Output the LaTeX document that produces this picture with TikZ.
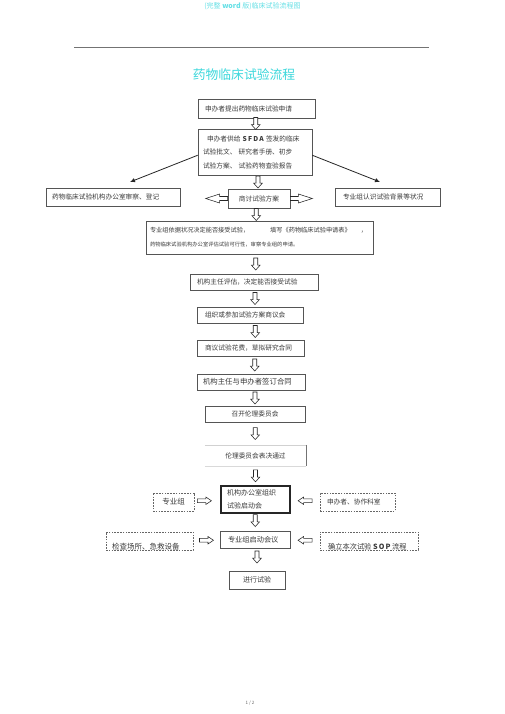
\documentclass[tikz,border=0pt]{standalone}
\usepackage{fontspec}
\setmainfont{Noto Sans CJK SC}
\usetikzlibrary{arrows.meta,calc}
\definecolor{ttl}{HTML}{3CD8DC}
\definecolor{hdr}{HTML}{66E0E6}
\definecolor{txt}{HTML}{3A3A3A}
\definecolor{edge}{HTML}{555555}
\newcommand{\myfs}[2]{\fontsize{#1}{#2}\selectfont}
\tikzset{
  pics/darr/.style={code={\draw[line width=0.55pt, draw=black!85, fill=white]
     (-2,-6) -- (2,-6) -- (2,1.2) -- (4.3,1.2) -- (0,6) -- (-4.3,1.2) -- (-2,1.2) -- cycle;}},
  pics/rarr/.style={code={\draw[line width=0.55pt, draw=black!85, fill=white]
     (-7,-1.8) -- (1.5,-1.8) -- (1.5,-3.7) -- (7,0) -- (1.5,3.7) -- (1.5,1.8) -- (-7,1.8) -- cycle;}},
  pics/bigl/.style={code={\draw[line width=0.55pt, draw=black!85, fill=white]
     (0,0) -- (14,-4.5) -- (14,-2) -- (22,-2) -- (22,2) -- (14,2) -- (14,4.5) -- cycle;}},
  box/.style={draw=edge, line width=0.7pt, fill=white, inner sep=0pt, text=txt, font={\myfs{6.7}{8}}},
  dbox/.style={draw=black!60, dash pattern=on 1.6pt off 1.2pt, line width=0.6pt, inner sep=0pt, text=txt, font={\myfs{6.7}{8}}},
  plain/.style={inner sep=0pt, text=txt, font={\myfs{6.7}{8}}},
}
\begin{document}
\begin{tikzpicture}[x=1pt,y=-1pt]
\fill[white] (0,0) rectangle (505,714);
\useasboundingbox (0,0) rectangle (505,714);

% header, rule, title
\node[inner sep=0pt, text=hdr, font={\myfs{7}{8}}] (hd) at (252.5,6) {(完整 \textbf{word} 版)临床试验流程图};
\coordinate (rl) at (74,47);
\coordinate (rr) at (429,47);
\draw[black!55, line width=0.7pt] (rl) -- (rr);
\node[inner sep=0pt, text=ttl, font={\myfs{12.8}{14}}] (title) at (244,75) {药物临床试验流程};

% main boxes
\node[box, minimum width=117pt, minimum height=19pt, text width=103pt, align=left] (b1) at (256.5,108.5) {申办者提出药物临床试验申请};
\node[box, minimum width=114pt, minimum height=46pt, text width=104pt, align=left, font={\myfs{6.7}{13.5}}] (b2) at (255,152)
  {\hspace*{4pt}申办者供给 \textbf{S\,F\,D\,A} 签发的临床\\试验批文、 研究者手册、初步\\试验方案、 试验药物查验报告};
\node[box, minimum width=134pt, minimum height=18pt, text width=122pt, align=left] (bl) at (113,197) {药物临床试验机构办公室审察、登记};
\node[box, minimum width=62pt, minimum height=19pt] (bc) at (259,198.5) {商讨试验方案};
\node[box, minimum width=105pt, minimum height=18pt, text width=89pt, align=left] (br) at (387.5,197) {专业组认识试验背景等状况};
\node[box, minimum width=227pt, minimum height=33pt, text width=219pt, align=left, font={\myfs{6.2}{14}}] (b4) at (259.5,237.5)
  {专业组依据状况决定能否接受试验，\hspace{21pt}填写《药物临床试验申请表》\hspace{10pt}，\\
   {\myfs{5.3}{14}药物临床试验机构办公室评估试验可行性，审察专业组的申请。}};
\node[box, minimum width=128pt, minimum height=16pt, text width=114pt, align=left] (b5) at (254,282) {机构主任评估，决定能否接受试验};
\node[box, minimum width=106pt, minimum height=16pt, text width=90pt, align=left] (b6) at (250,315) {组织或参加试验方案商议会};
\node[box, minimum width=107pt, minimum height=16pt, text width=91pt, align=left] (b7) at (250.5,348) {商议试验花费，草拟研究合同};
\node[box, minimum width=108pt, minimum height=16pt, text width=96pt, align=left, font={\myfs{7.4}{8}}] (b8) at (251,382) {机构主任与申办者签订合同};
\node[box, minimum width=100pt, minimum height=16pt] (b9) at (255,414) {召开伦理委员会};
\node[plain, minimum width=101pt, minimum height=21pt] (b10) at (255.5,455.5) {伦理委员会表决通过};
\draw[black!18, line width=0.6pt] (b10.north west) -- (b10.north east);
\draw[black!55, line width=0.7pt] (b10.north east) -- (b10.south east);
\draw[black!15, line width=0.6pt] (b10.south west) -- (b10.south east);
\node[box, draw=black!85, line width=1.1pt, minimum width=69pt, minimum height=27pt, text width=57pt, align=left, font={\myfs{7}{13}}] (b11) at (255.5,499.5) {机构办公室组织\\试验启动会};
\node[dbox, minimum width=41pt, minimum height=18pt, font={\myfs{7.5}{8}}] (d1) at (173.5,502) {专业组};
\node[dbox, minimum width=75pt, minimum height=18pt, text width=61pt, align=left] (d2) at (357.5,502) {申办者、协作科室};
\node[box, minimum width=70pt, minimum height=17pt, text width=54pt, align=left, font={\myfs{7.2}{8}}] (b12) at (255,539.5) {专业组启动会议};
\node[dbox, minimum width=87pt, minimum height=18pt] (d3) at (149.5,541) {};
\node[plain, anchor=base west, font={\myfs{7.5}{8}}] (d3t) at (112,549.8) {检查场所、急救设备};
\node[dbox, minimum width=98pt, minimum height=18pt] (d4) at (369,541) {};
\node[plain, anchor=base west, font={\myfs{7.2}{8}}] (d4t) at (328,549.8) {确立本次试验 \textbf{S\,O\,P} 流程};
\node[box, minimum width=56pt, minimum height=18pt, font={\myfs{7}{8}}] (b13) at (257,580) {进行试验};

% page number
\node[inner sep=0pt, text=black!60, font={\myfs{4.5}{5}}] (pg) at (250,703) {1 / 2};

% diagonal arrows
\coordinate (la) at (130,182);
\coordinate (ra) at (380,182);
\draw[black!85, line width=0.8pt, -{Latex[length=5pt,width=4.5pt]}] ($(b2.north west)!0.57!(b2.south west)$) -- (la);
\draw[black!85, line width=0.8pt, -{Latex[length=5pt,width=4.5pt]}] ($(b2.north east)!0.57!(b2.south east)$) -- (ra);

% side arrows at bc
\pic at ([xshift=-22pt]bc.west) {bigl};
\pic[rotate=180] at ([xshift=22pt]bc.east) {bigl};

% down arrows
\pic at ($(b1.south)!.5!(b2.north)$) {darr};
\pic at ($(b2.south)!.5!(bc.north)+(1,0)$) {darr};
\pic at ($(bc.south)!.5!(b4.north)+(-3,0)$) {darr};
\pic at ($(b4.south)!.5!(b5.north)+(-1,0)$) {darr};
\pic at ($(b5.south)!.5!(b6.north)+(3,0)$) {darr};
\pic at ($(b6.south)!.5!(b7.north)+(5,0)$) {darr};
\pic at ($(b7.south)!.5!(b8.north)+(4,0)$) {darr};
\pic at ($(b8.south)!.5!(b9.north)+(2,0)$) {darr};
\pic at ($(b9.south)!.5!(b10.north)$) {darr};
\pic at ($(b10.south)!.5!(b11.north)$) {darr};
\pic at ($(b11.south)!.5!(b12.north)+(0,-1.5)$) {darr};
\pic at ($(b12.south)!.5!(b13.north)+(1,-2.5)$) {darr};

% side small arrows
\pic at ($(d1.east)!.5!(b11.west)+(-3,0)$) {rarr};
\pic[rotate=180] at ($(b11.east)!.5!(d2.west)$) {rarr};
\pic at ($(d3.east)!.5!(b12.west)$) {rarr};
\pic[rotate=180] at ($(b12.east)!.5!(d4.west)$) {rarr};
\end{tikzpicture}
\end{document}
